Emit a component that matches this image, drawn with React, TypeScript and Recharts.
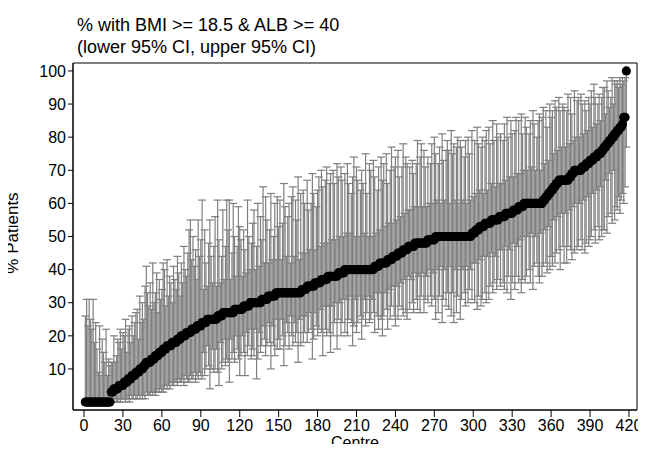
import React from 'react';
import { ComposedChart, Scatter, XAxis, YAxis, ErrorBar, ReferenceArea } from 'recharts';

// % of patients per centre, sorted (centre = position + 1)
const pct = [
  0, 0, 0, 0, 0, 0, 0, 0, 0, 0,
  0, 0, 0, 0, 0, 0, 0, 0, 0, 0,
  3, 3, 4, 4, 4, 4, 5, 5, 5, 5,
  6, 6, 6, 7, 7, 7, 8, 8, 8, 9,
  9, 9, 10, 10, 10, 11, 11, 12, 12, 12,
  12, 13, 13, 13, 14, 14, 14, 15, 15, 15,
  16, 16, 16, 17, 17, 17, 17, 18, 18, 18,
  18, 19, 19, 19, 20, 20, 20, 20, 21, 21,
  21, 21, 22, 22, 22, 22, 23, 23, 23, 23,
  24, 24, 24, 24, 25, 25, 25, 25, 25, 25,
  25, 25, 26, 26, 26, 26, 27, 27, 27, 27,
  27, 27, 27, 27, 27, 28, 28, 28, 28, 28,
  28, 28, 29, 29, 29, 29, 29, 30, 30, 30,
  30, 30, 30, 30, 30, 30, 31, 31, 31, 31,
  31, 32, 32, 32, 32, 32, 32, 33, 33, 33,
  33, 33, 33, 33, 33, 33, 33, 33, 33, 33,
  33, 33, 33, 33, 33, 33, 33, 34, 34, 34,
  34, 35, 35, 35, 35, 35, 35, 36, 36, 36,
  36, 36, 37, 37, 37, 37, 37, 38, 38, 38,
  38, 38, 38, 38, 38, 39, 39, 39, 39, 39,
  40, 40, 40, 40, 40, 40, 40, 40, 40, 40,
  40, 40, 40, 40, 40, 40, 40, 40, 40, 40,
  40, 40, 40, 41, 41, 41, 41, 42, 42, 42,
  42, 42, 42, 43, 43, 43, 43, 44, 44, 44,
  44, 45, 45, 45, 45, 46, 46, 46, 46, 47,
  47, 47, 47, 47, 48, 48, 48, 48, 48, 48,
  48, 48, 48, 48, 49, 49, 49, 49, 49, 49,
  50, 50, 50, 50, 50, 50, 50, 50, 50, 50,
  50, 50, 50, 50, 50, 50, 50, 50, 50, 50,
  50, 50, 50, 50, 50, 50, 50, 50, 51, 51,
  51, 52, 52, 52, 53, 53, 53, 53, 54, 54,
  54, 54, 54, 55, 55, 55, 55, 55, 55, 56,
  56, 56, 56, 56, 57, 57, 57, 57, 57, 57,
  58, 58, 58, 58, 59, 59, 59, 59, 60, 60,
  60, 60, 60, 60, 60, 60, 60, 60, 60, 60,
  60, 60, 60, 61, 61, 62, 62, 63, 63, 64,
  64, 65, 65, 66, 66, 67, 67, 67, 67, 67,
  67, 67, 67, 68, 68, 69, 69, 70, 70, 70,
  70, 70, 70, 71, 71, 71, 72, 72, 72, 73,
  73, 73, 74, 74, 74, 75, 75, 75, 76, 76,
  77, 77, 78, 78, 79, 79, 80, 80, 81, 81,
  82, 82, 83, 83, 84, 86, 86, 100,
];

// lower 95% CI
const lower = [
  0, 0, 0, 0, 0, 0, 0, 0, 0, 0,
  0, 0, 0, 0, 0, 0, 0, 0, 0, 0,
  0, 0, 0, 1, 0, 0, 1, 0, 1, 1,
  1, 0, 1, 1, 0, 2, 1, 1, 2, 1,
  1, 2, 1, 2, 1, 2, 1, 3, 2, 2,
  2, 3, 2, 3, 2, 3, 4, 3, 4, 3,
  3, 4, 5, 4, 5, 4, 6, 5, 5, 6,
  6, 5, 7, 6, 6, 7, 5, 8, 7, 6,
  6, 8, 7, 7, 9, 6, 8, 7, 9, 8,
  7, 15, 8, 10, 17, 11, 4, 10, 16, 9,
  10, 16, 9, 5, 18, 10, 12, 19, 11, 13,
  12, 6, 19, 13, 15, 12, 20, 16, 13, 8,
  14, 20, 15, 8, 21, 14, 17, 22, 13, 16,
  14, 22, 7, 13, 21, 15, 17, 23, 19, 14,
  17, 24, 18, 10, 23, 17, 14, 25, 16, 19,
  16, 25, 20, 11, 17, 24, 21, 16, 26, 20,
  17, 24, 18, 21, 12, 25, 17, 26, 18, 21,
  26, 18, 21, 27, 22, 13, 19, 27, 23, 20,
  22, 28, 21, 14, 29, 22, 20, 29, 21, 15,
  29, 20, 24, 30, 16, 25, 30, 20, 24, 31,
  21, 31, 20, 25, 32, 24, 17, 23, 31, 21,
  24, 32, 26, 19, 25, 31, 23, 27, 32, 24,
  25, 31, 27, 21, 33, 26, 22, 33, 25, 20,
  26, 33, 28, 22, 34, 25, 29, 35, 26, 23,
  35, 25, 29, 36, 28, 26, 37, 27, 25, 38,
  28, 37, 30, 27, 39, 31, 28, 38, 27, 32,
  39, 27, 31, 38, 30, 40, 32, 29, 39, 31,
  25, 40, 27, 32, 41, 24, 31, 40, 29, 33,
  28, 41, 26, 33, 24, 40, 27, 32, 41, 25,
  31, 40, 33, 29, 41, 30, 34, 40, 31, 42,
  30, 42, 28, 32, 43, 29, 31, 44, 33, 30,
  44, 31, 35, 45, 33, 36, 44, 34, 37, 46,
  35, 46, 36, 34, 47, 33, 38, 46, 31, 36,
  48, 34, 38, 47, 36, 49, 33, 37, 50, 36,
  38, 50, 40, 36, 51, 34, 41, 50, 42, 38,
  36, 51, 38, 41, 52, 42, 39, 53, 40, 44,
  41, 55, 42, 45, 56, 46, 40, 57, 47, 42,
  57, 42, 47, 58, 46, 43, 59, 45, 60, 46,
  47, 60, 49, 46, 61, 45, 48, 62, 47, 49,
  50, 63, 52, 48, 64, 53, 49, 65, 50, 52,
  52, 67, 51, 56, 69, 57, 54, 70, 55, 59,
  58, 62, 57, 61, 63, 60, 65, 77,
];

// upper 95% CI
const upper = [
  26, 31, 23, 31, 25, 22, 31, 18, 24, 16,
  9, 23, 8, 19, 15, 12, 22, 8, 13, 11,
  12, 12, 20, 12, 14, 19, 18, 22, 16, 21,
  20, 25, 15, 22, 23, 18, 26, 20, 24, 27,
  28, 19, 32, 24, 30, 25, 35, 41, 33, 29,
  36, 28, 42, 30, 33, 39, 27, 37, 31, 34,
  42, 40, 29, 43, 32, 38, 36, 30, 41, 37,
  34, 44, 39, 32, 42, 36, 47, 40, 38, 45,
  52, 55, 43, 50, 41, 46, 37, 55, 44, 49,
  61, 34, 52, 42, 35, 48, 55, 44, 36, 47,
  56, 35, 61, 49, 36, 44, 58, 37, 47, 61,
  52, 61, 37, 45, 60, 50, 38, 47, 59, 53,
  49, 38, 52, 46, 39, 61, 50, 40, 48, 54,
  58, 40, 47, 60, 41, 56, 49, 65, 42, 62,
  55, 42, 52, 63, 43, 50, 60, 43, 62, 53,
  61, 43, 54, 66, 59, 44, 56, 60, 42, 62,
  65, 44, 61, 55, 68, 43, 63, 45, 64, 60,
  45, 67, 58, 46, 60, 69, 63, 46, 59, 64,
  68, 47, 70, 65, 48, 67, 71, 48, 66, 69,
  49, 70, 66, 49, 72, 68, 50, 71, 67, 50,
  69, 51, 72, 66, 51, 63, 68, 74, 50, 71,
  67, 50, 64, 70, 66, 51, 75, 63, 50, 72,
  70, 50, 73, 68, 51, 64, 71, 52, 74, 67,
  72, 53, 75, 66, 54, 70, 77, 54, 71, 74,
  55, 76, 68, 56, 71, 78, 57, 74, 72, 58,
  71, 58, 73, 69, 59, 72, 79, 59, 74, 78,
  59, 76, 71, 59, 74, 60, 72, 78, 60, 80,
  75, 61, 72, 77, 60, 81, 73, 61, 76, 79,
  76, 60, 82, 75, 78, 61, 77, 80, 60, 79,
  77, 61, 74, 79, 60, 80, 75, 61, 82, 62,
  79, 63, 83, 78, 64, 77, 80, 63, 79, 82,
  64, 83, 78, 66, 85, 79, 65, 84, 80, 66,
  81, 66, 79, 84, 67, 86, 80, 68, 85, 81,
  68, 82, 86, 69, 85, 69, 87, 81, 70, 86,
  83, 70, 81, 85, 71, 88, 84, 70, 80, 85,
  87, 70, 86, 89, 72, 88, 83, 73, 90, 86,
  88, 75, 91, 89, 76, 92, 88, 77, 90, 89,
  77, 88, 93, 78, 92, 87, 79, 94, 80, 91,
  92, 80, 93, 90, 81, 91, 88, 82, 92, 90,
  94, 83, 96, 92, 84, 90, 93, 85, 92, 95,
  95, 87, 97, 94, 89, 92, 98, 90, 97, 96,
  97, 95, 98, 96, 98, 97, 98, 100,
];

const xTicks = [0, 30, 60, 90, 120, 150, 180, 210, 240, 270, 300, 330, 360, 390, 420];
const yTicks = [10, 20, 30, 40, 50, 60, 70, 80, 90, 100];

const data = pct.map((p, i) => ({
  centre: i + 1,
  pct: p,
  err: [p - lower[i], upper[i] - p],
}));

const X_DOMAIN = [-8.5, 426.2];
const Y_DOMAIN = [-2.4, 102.4];
const FONT = '"Liberation Sans", Arial, Helvetica, sans-serif';
const tickStyle = { fontFamily: FONT, fontSize: 16, fill: '#000' };
const GREY = '#7f7f7f';

const noShape = () => <g />;
const dotShape = (props: any) => <circle cx={props.cx} cy={props.cy} r={4.6} fill="#000" />;

export default function App() {
  return (
    <div style={{ position: 'relative', width: 646, height: 452, margin: -8, overflow: 'hidden', fontFamily: FONT, color: '#000', background: '#fff' }}>
      <div style={{ position: 'absolute', left: 77, top: 15, fontSize: 18, lineHeight: '20px', whiteSpace: 'nowrap' }}>
        % with BMI &gt;= 18.5 &amp; ALB &gt;= 40
      </div>
      <div style={{ position: 'absolute', left: 77, top: 37, fontSize: 18, lineHeight: '20px', whiteSpace: 'nowrap' }}>
        (lower 95% CI, upper 95% CI)
      </div>
      <div style={{ position: 'absolute', left: 13 - 60, top: 233 - 10, width: 120, height: 20, lineHeight: '20px', fontSize: 17, textAlign: 'center', transform: 'rotate(-90deg)' }}>
        % Patients
      </div>
      <div style={{ position: 'absolute', left: 305, width: 100, top: 434, fontSize: 16, lineHeight: '17px', textAlign: 'center' }}>
        Centre
      </div>
      <ComposedChart width={646} height={452} data={data} margin={{ top: 63, right: 9, bottom: 12, left: 23 }}>
        <XAxis
          dataKey="centre"
          type="number"
          domain={X_DOMAIN}
          allowDataOverflow
          ticks={xTicks}
          interval={0}
          height={30}
          tickSize={7}
          tickMargin={3}
          tick={tickStyle}
          stroke="#000"
        />
        <YAxis
          dataKey="pct"
          type="number"
          domain={Y_DOMAIN}
          allowDataOverflow
          ticks={yTicks}
          interval={0}
          width={50}
          tickSize={5}
          tickMargin={2}
          tick={tickStyle}
          stroke="#000"
        />
        <Scatter dataKey="pct" fill={GREY} shape={noShape} isAnimationActive={false}>
          <ErrorBar dataKey="err" direction="y" width={4} stroke={GREY} strokeWidth={1.2} isAnimationActive={false} />
        </Scatter>
        <Scatter dataKey="pct" fill="#000" shape={dotShape} isAnimationActive={false} />
        <ReferenceArea
          x1={X_DOMAIN[0]}
          x2={X_DOMAIN[1]}
          y1={Y_DOMAIN[0]}
          y2={Y_DOMAIN[1]}
          fill="none"
          fillOpacity={0}
          stroke="#000"
          strokeWidth={1}
          ifOverflow="visible"
        />
      </ComposedChart>
    </div>
  );
}
